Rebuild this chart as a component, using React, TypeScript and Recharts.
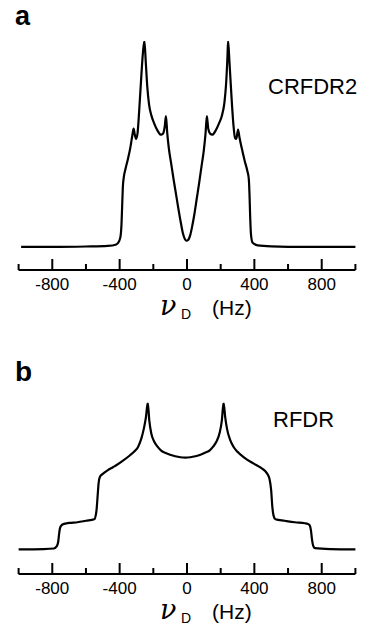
import React from 'react';
import { LineChart, Line, XAxis, YAxis } from 'recharts';

// x axis ticks (Hz)
const tickValues = [-1000, -800, -600, -400, -200, 0, 200, 400, 600, 800, 1000];
const labeledTicks = [-800, -400, 0, 400, 800];

// panel a: CRFDR2 spectrum
const crfdrHz = [
  -985, -800, -600, -470, -420, -405, -395, -389, -385, -381, -375, -365, -350, -337, -325, -317,
  -310, -302, -294, -284, -272, -262, -253, -245, -236, -225, -212, -195, -175, -155, -143, -133,
  -125, -117, -108, -95, -80, -65, -50, -36, -24, -12, -3, 8, 20, 32, 45, 58, 72, 86, 100, 110,
  118, 126, 137, 150, 170, 190, 208, 222, 232, 240, 244, 252, 262, 275, 285, 293, 303, 312, 325,
  342, 358, 367, 371, 375, 380, 390, 420, 500, 700, 1000,
];
const crfdrInt = [
  0, 0, 0.002, 0.005, 0.012, 0.025, 0.05, 0.11, 0.2, 0.29, 0.34, 0.38, 0.43, 0.48, 0.54, 0.575,
  0.545, 0.525, 0.55, 0.66, 0.82, 0.94, 1.0, 0.9, 0.78, 0.69, 0.64, 0.6, 0.565, 0.545, 0.55, 0.58,
  0.635, 0.55, 0.48, 0.41, 0.33, 0.255, 0.18, 0.115, 0.065, 0.037, 0.03, 0.035, 0.06, 0.105, 0.165,
  0.235, 0.31, 0.39, 0.47, 0.55, 0.635, 0.575, 0.55, 0.545, 0.565, 0.6, 0.64, 0.7, 0.79, 0.92, 1.0,
  0.9, 0.76, 0.6, 0.53, 0.525, 0.57, 0.53, 0.48, 0.42, 0.37, 0.33, 0.26, 0.15, 0.06, 0.02, 0.008,
  0.003, 0, 0,
];

// panel b: RFDR spectrum
const rfdrHz = [
  -1000, -850, -790, -774, -765, -760, -755, -748, -735, -700, -650, -600, -551, -538, -531, -525,
  -517, -500, -470, -440, -418, -380, -340, -310, -290, -270, -255, -244, -233, -224, -212, -195,
  -175, -155, -130, -100, -70, -40, -10, 20, 50, 80, 110, 135, 155, 175, 195, 207, 217, 227, 238,
  255, 276, 300, 340, 394, 440, 474, 490, 500, 506, 514, 525, 580, 640, 700, 715, 728, 736, 742,
  748, 760, 850, 1000,
];
const rfdrInt = [
  0, 0.002, 0.006, 0.02, 0.05, 0.1, 0.14, 0.16, 0.172, 0.18, 0.185, 0.195, 0.205, 0.26, 0.36, 0.45,
  0.495, 0.515, 0.54, 0.56, 0.575, 0.605, 0.64, 0.67, 0.7, 0.76, 0.83, 0.9, 1.0, 0.88, 0.79, 0.735,
  0.7, 0.675, 0.658, 0.645, 0.635, 0.628, 0.625, 0.628, 0.635, 0.645, 0.66, 0.675, 0.7, 0.735, 0.8,
  0.88, 1.0, 0.9, 0.82, 0.75, 0.7, 0.665, 0.625, 0.586, 0.555, 0.52, 0.48, 0.4, 0.3, 0.23, 0.205,
  0.195, 0.185, 0.178, 0.175, 0.165, 0.13, 0.07, 0.03, 0.008, 0.002, 0,
];

const toRows = (hz: number[], vals: number[]) => hz.map((h, i) => ({ hz: h, y: vals[i] }));
const crfdrData = toRows(crfdrHz, crfdrInt);
const rfdrData = toRows(rfdrHz, rfdrInt);

const SANS = '"Liberation Sans", Arial, Helvetica, sans-serif';

const AxisTick = (props: any) => {
  const { x, y, payload } = props;
  const major = labeledTicks.includes(payload.value);
  return (
    <g>
      <line x1={x} x2={x} y1={y} y2={y - (major ? 11 : 6)} stroke="#000" strokeWidth={2} />
      {major && (
        <text x={x} y={y + 20} textAnchor="middle" fontSize={17} fontFamily={SANS} fill="#000">
          {payload.value}
        </text>
      )}
    </g>
  );
};

const AxisTitle = (props: any) => {
  const { viewBox } = props;
  const cx = viewBox.x + viewBox.width / 2;
  const y = viewBox.y + 45;
  return (
    <text y={y} fill="#000">
      <tspan x={cx - 27} fontFamily='"DejaVu Serif", serif' fontStyle="italic" fontSize={27}>
        ν
      </tspan>
      <tspan x={cx - 6} dy={4} fontFamily={SANS} fontSize={14}>
        D
      </tspan>
      <tspan x={cx + 25} dy={-4} fontFamily={SANS} fontSize={21}>
        (Hz)
      </tspan>
    </text>
  );
};

const xAxisProps = {
  dataKey: 'hz',
  type: 'number' as const,
  domain: [-1000, 1000],
  ticks: tickValues,
  interval: 0,
  tickSize: 0,
  tickMargin: 0,
  tickLine: false,
  axisLine: { stroke: '#000', strokeWidth: 2 },
  tick: AxisTick,
  label: { content: AxisTitle },
};

export default function App() {
  return (
    <div style={{ position: 'absolute', left: 0, top: 0, width: 369, height: 634, background: '#fff' }}>
      <div style={{ position: 'absolute', left: 0, top: 0 }}>
        <LineChart width={369} height={330} data={crfdrData} margin={{ top: 41, right: 13.6, bottom: 0, left: 18.6 }}>
          <XAxis {...xAxisProps} height={60} />
          <YAxis hide domain={[-0.112, 1]} allowDataOverflow />
          <Line type="monotone" dataKey="y" stroke="#000" strokeWidth={2.2} dot={false} isAnimationActive={false} />
        </LineChart>
      </div>
      <div style={{ position: 'absolute', left: 0, top: 320 }}>
        <LineChart width={369} height={314} data={rfdrData} margin={{ top: 82.7, right: 13.6, bottom: 0, left: 18.6 }}>
          <XAxis {...xAxisProps} height={60} />
          <YAxis hide domain={[-0.168, 1]} allowDataOverflow />
          <Line type="monotone" dataKey="y" stroke="#000" strokeWidth={2.2} dot={false} isAnimationActive={false} />
        </LineChart>
      </div>
      <svg width={369} height={634} style={{ position: 'absolute', left: 0, top: 0, pointerEvents: 'none' }}>
        <text x={15} y={25} fontFamily={SANS} fontWeight="bold" fontSize={27} fill="#000">a</text>
        <text x={268} y={94} fontFamily={SANS} fontSize={22} fill="#000">CRFDR2</text>
        <text x={15} y={381} fontFamily={SANS} fontWeight="bold" fontSize={28} fill="#000">b</text>
        <text x={273} y={427} fontFamily={SANS} fontSize={22} fill="#000">RFDR</text>
      </svg>
    </div>
  );
}
